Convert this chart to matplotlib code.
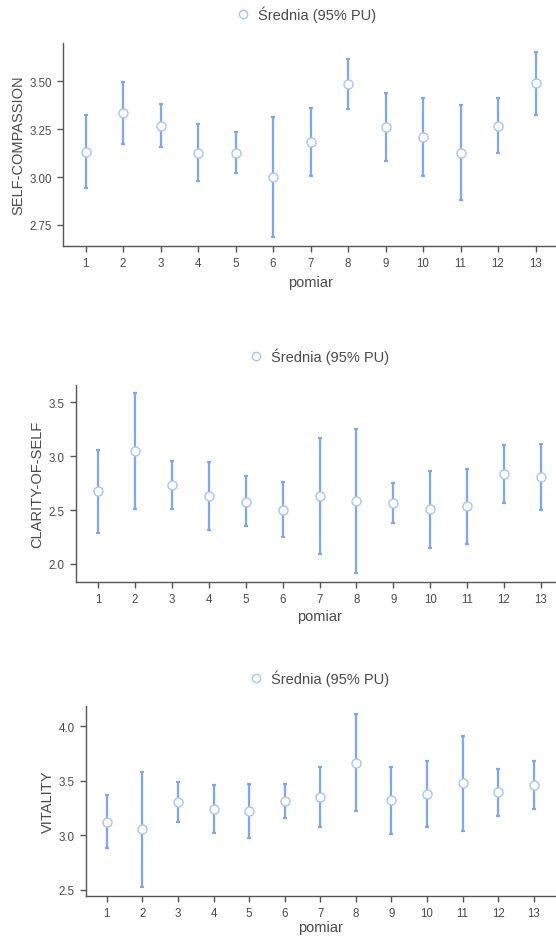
import matplotlib
matplotlib.use("Agg")
import matplotlib.pyplot as plt
from matplotlib.lines import Line2D

plt.rcParams['font.family'] = ['Liberation Sans', 'DejaVu Sans']

pomiar = list(range(1, 14))

sc_mean = [3.133, 3.333, 3.269, 3.128, 3.126, 3.000, 3.182, 3.484, 3.260, 3.208, 3.128, 3.267, 3.490]
sc_low = [2.945, 3.171, 3.156, 2.982, 3.023, 2.688, 3.004, 3.356, 3.082, 3.008, 2.881, 3.124, 3.326]
sc_high = [3.323, 3.498, 3.382, 3.276, 3.234, 3.316, 3.363, 3.615, 3.437, 3.411, 3.375, 3.413, 3.655]

cs_mean = [2.673, 3.046, 2.728, 2.630, 2.577, 2.500, 2.630, 2.583, 2.562, 2.506, 2.534, 2.833, 2.806]
cs_low = [2.290, 2.509, 2.509, 2.315, 2.349, 2.247, 2.093, 1.917, 2.377, 2.148, 2.188, 2.568, 2.497]
cs_high = [3.056, 3.586, 2.954, 2.944, 2.812, 2.756, 3.170, 3.253, 2.747, 2.867, 2.880, 3.102, 3.114]

vi_mean = [3.125, 3.055, 3.302, 3.241, 3.223, 3.314, 3.348, 3.665, 3.320, 3.375, 3.476, 3.393, 3.457]
vi_low = [2.881, 2.527, 3.119, 3.024, 2.976, 3.162, 3.073, 3.223, 3.015, 3.076, 3.043, 3.180, 3.238]
vi_high = [3.366, 3.582, 3.488, 3.460, 3.470, 3.466, 3.622, 4.113, 3.628, 3.677, 3.905, 3.604, 3.680]

ylabels = ["SELF-COMPASSION", "CLARITY-OF-SELF", "VITALITY"]
yticks = [[2.75, 3.00, 3.25, 3.50], [2.0, 2.5, 3.0, 3.5], [2.5, 3.0, 3.5, 4.0]]
yticklabels = [["2.75", "3.00", "3.25", "3.50"], ["2.0", "2.5", "3.0", "3.5"], ["2.5", "3.0", "3.5", "4.0"]]
ylims = [(2.64, 3.70), (1.833, 3.66), (2.445, 4.183)]
legend_label = "Średnia (95% PU)"
xlabel = "pomiar"

W, H = 556, 937
fig = plt.figure(figsize=(W / 100, H / 100), dpi=100)

# pixel boxes: left, top, right, bottom
boxes = [(63, 44, 558, 247), (76, 386, 563, 583), (85.5, 707, 555, 897)]
legend_pos = [(305, 15), (318, 357), (318, 679)]
ylabel_x = [18, 37, 48]
xlabel_y = [283, 617, 928]

ecol = "#7DA7EF"
mcol = "#A9C4F4"
gray = "#4a4a4a"

data = [(sc_mean, sc_low, sc_high), (cs_mean, cs_low, cs_high), (vi_mean, vi_low, vi_high)]

for i, ((m, lo, hi), (l, t, r, b)) in enumerate(zip(data, boxes)):
    ax = fig.add_axes([l / W, 1 - b / H, (r - l) / W, (b - t) / H])
    yerr = [[mm - ll for mm, ll in zip(m, lo)], [hh - mm for mm, hh in zip(m, hi)]]
    ax.errorbar(pomiar, m, yerr=yerr, fmt='none', ecolor=ecol, elinewidth=1.6,
                capsize=1.6, capthick=1.6, zorder=2)
    ax.plot(pomiar, m, 'o', ms=6.5, mfc='white', mec=mcol, mew=1.0, zorder=3)
    ax.set_xlim(0.4, 13.6)
    ax.set_ylim(*ylims[i])
    ax.set_xticks(pomiar)
    ax.set_xticklabels([str(p) for p in pomiar])
    ax.set_yticks(yticks[i])
    ax.set_yticklabels(yticklabels[i])
    for s in ['top', 'right']:
        ax.spines[s].set_visible(False)
    for s in ['left', 'bottom']:
        ax.spines[s].set_color("#555555")
        ax.spines[s].set_linewidth(1.0)
    ax.tick_params(axis='both', colors="#555555", labelcolor=gray, labelsize=8.3,
                   length=4, width=1.0, pad=4)
    ax.set_xlabel(xlabel, fontsize=10.5, color=gray)
    ax.xaxis.set_label_coords(((l + r) / 2 - l) / (r - l), -(xlabel_y[i] - b) / (b - t))
    ax.xaxis.label.set_verticalalignment('center')
    ax.set_ylabel(ylabels[i], fontsize=10.5, color=gray)
    ax.yaxis.set_label_coords(-(l - ylabel_x[i]) / (r - l), 0.5)
    ax.yaxis.label.set_verticalalignment('center')
    lx, ly = legend_pos[i]
    h = Line2D([], [], linestyle='none', marker='o', ms=6, mfc='white', mec=mcol, mew=1.0)
    fig.legend([h], [legend_label], loc='center', bbox_to_anchor=(lx / W, 1 - ly / H),
               frameon=False, fontsize=10.5, labelcolor=gray, handletextpad=0.4,
               handlelength=1.2)

fig.savefig("out.png", dpi=100)
